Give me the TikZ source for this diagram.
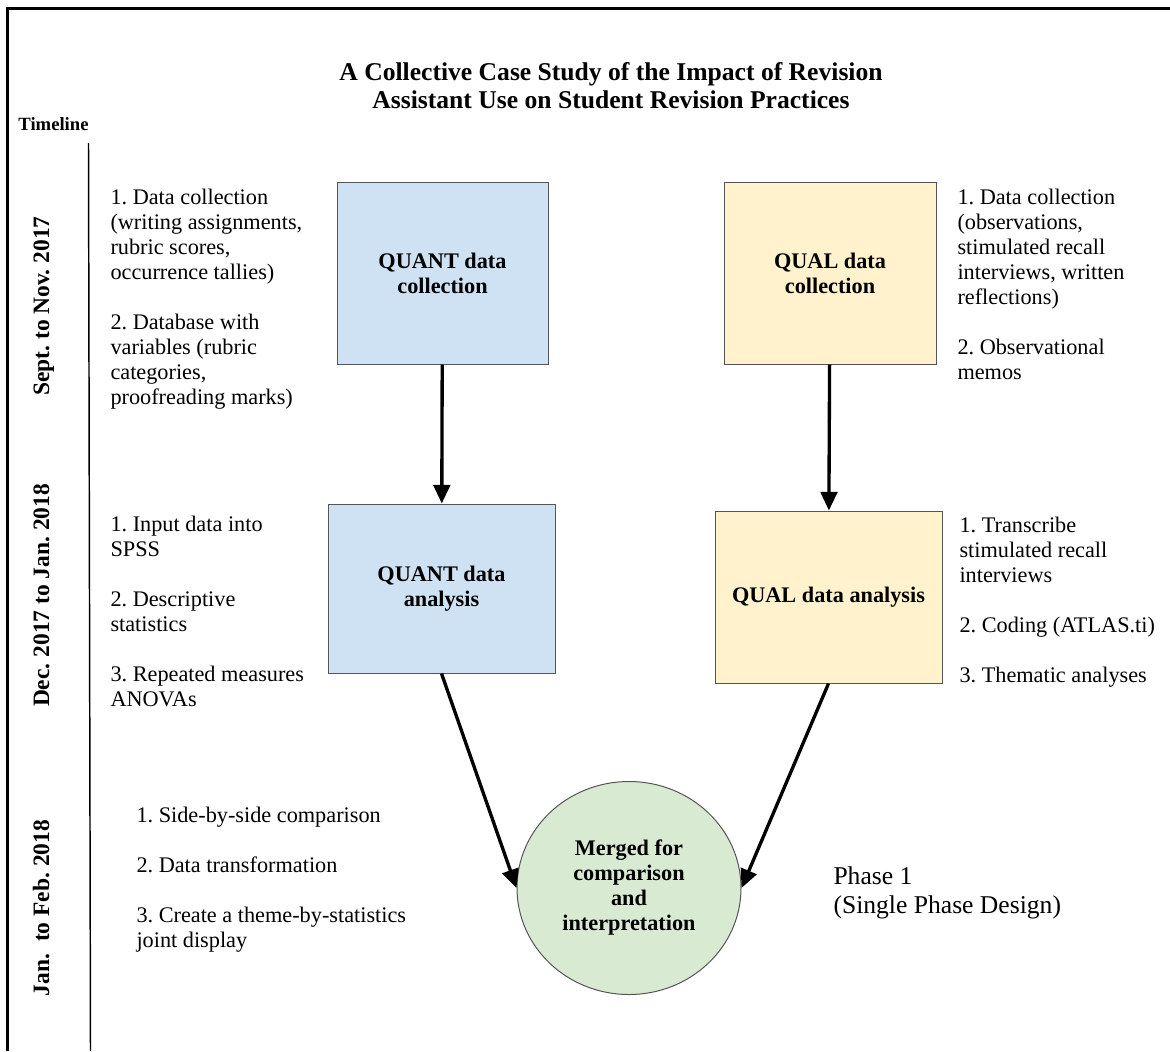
\documentclass[tikz,border=0pt]{standalone}
\usepackage{fontspec}
\setmainfont{Liberation Serif}
\usetikzlibrary{arrows.meta,shapes.geometric}
\frenchspacing

\tikzset{every picture/.style={line width=0.75pt}}
\tikzset{
  note/.style={anchor=north west, inner sep=0pt, align=left, font=\fontsize{16.7}{18.75}\selectfont},
  quant/.style={draw={rgb, 255:red, 85; green, 85; blue, 85}, fill={rgb, 255:red, 207; green, 226; blue, 243}, inner sep=0pt, align=center, font=\fontsize{16.7}{18.75}\selectfont\bfseries},
  qual/.style={quant, fill={rgb, 255:red, 255; green, 242; blue, 204}},
  period/.style={anchor=base, rotate=90, inner sep=0pt, font=\fontsize{17.6}{21}\selectfont\bfseries},
  flow/.style={line width=2.5pt, -{Triangle[length=14pt,width=12.5pt]}}
}

\begin{document}
\begin{tikzpicture}[x=0.75pt,y=0.75pt,yscale=-1,xscale=1]
\useasboundingbox (0,0) rectangle (1170,1051);

%Straight Lines [frame]
\draw [line width=2.25pt] (7,1051) -- (7,8) -- (1170,8) ;
%Straight Lines [timeline]
\draw [line width=1.1pt] (88.5,143) -- (90.5,1051) ;

%Shape: Rectangle [quant collection]
\node (qncoll) [quant, minimum width=158.25pt, minimum height=136.5pt] at (442.5,273) {QUANT data\\collection};
%Shape: Rectangle [quant analysis]
\node (qnana) [quant, minimum width=170.25pt, minimum height=126.75pt] at (441.5,588.5) {QUANT data\\analysis};
%Shape: Rectangle [qual collection]
\node (qlcoll) [qual, minimum width=159pt, minimum height=136.5pt] at (830,273) {QUAL data\\collection};
%Shape: Rectangle [qual analysis]
\node (qlana) [qual, minimum width=170.25pt, minimum height=129pt] at (828.5,597) {QUAL data analysis};
%Shape: Circle [merge]
\node (merge) [quant, ellipse, fill={rgb, 255:red, 217; green, 234; blue, 211}, minimum width=168pt, minimum height=159.75pt] at (629,888) {Merged for\\comparison\\and\\interpretation};

%Straight Lines [arrows]
\draw [flow] (qncoll) -- (qnana) ;
\draw [flow] (qlcoll) -- (qlana) ;
\draw [flow] (qnana.south) -- (merge.west) ;
\draw [flow] (qlana.south) -- (merge.east) ;

% Text Node
\node (title) [anchor=north, inner sep=0pt, align=center, font=\fontsize{19.2}{21}\selectfont\bfseries] at (611,62) {A Collective Case Study of the Impact of Revision\\Assistant Use on Student Revision Practices};
% Text Node
\node (timeline) [anchor=base, inner sep=0pt, font=\fontsize{14}{16}\selectfont\bfseries] at (53.5,130) {Timeline};
% Text Node
\node (sept) [period] at (49,306) {Sept. to Nov. 2017};
% Text Node
\node (dec) [period] at (49,595.5) {Dec. 2017 to Jan. 2018};
% Text Node
\node (jan) [period] at (49,908) {Jan.~ to Feb. 2018};

% Text Node
\node (quantnotes1) [note] at (110,189) {1. Data collection\\(writing assignments,\\rubric scores,\\occurrence tallies)\\[18.75pt]2. Database with\\variables (rubric\\categories,\\proofreading marks)};
% Text Node
\node (quantnotes2) [note] at (110,516) {1. Input data into\\SPSS\\[18.75pt]2. Descriptive\\statistics\\[18.75pt]3. Repeated measures\\ANOVAs};
% Text Node
\node (mergenotes) [note] at (136,807) {1. Side-by-side comparison\\[18.75pt]2. Data transformation\\[18.75pt]3. Create a theme-by-statistics\\joint display};
% Text Node
\node (qualnotes1) [note] at (957,189) {1. Data collection\\(observations,\\stimulated recall\\interviews, written\\reflections)\\[18.75pt]2. Observational\\memos};
% Text Node
\node (qualnotes2) [note] at (959,517) {1. Transcribe\\stimulated recall\\interviews\\[18.75pt]2. Coding (ATLAS.ti)\\[18.75pt]3. Thematic analyses};
% Text Node
\node (phase) [note, font=\fontsize{19.2}{21.75}\selectfont] at (833,866) {Phase 1\\(Single Phase Design)};

\end{tikzpicture}
\end{document}
